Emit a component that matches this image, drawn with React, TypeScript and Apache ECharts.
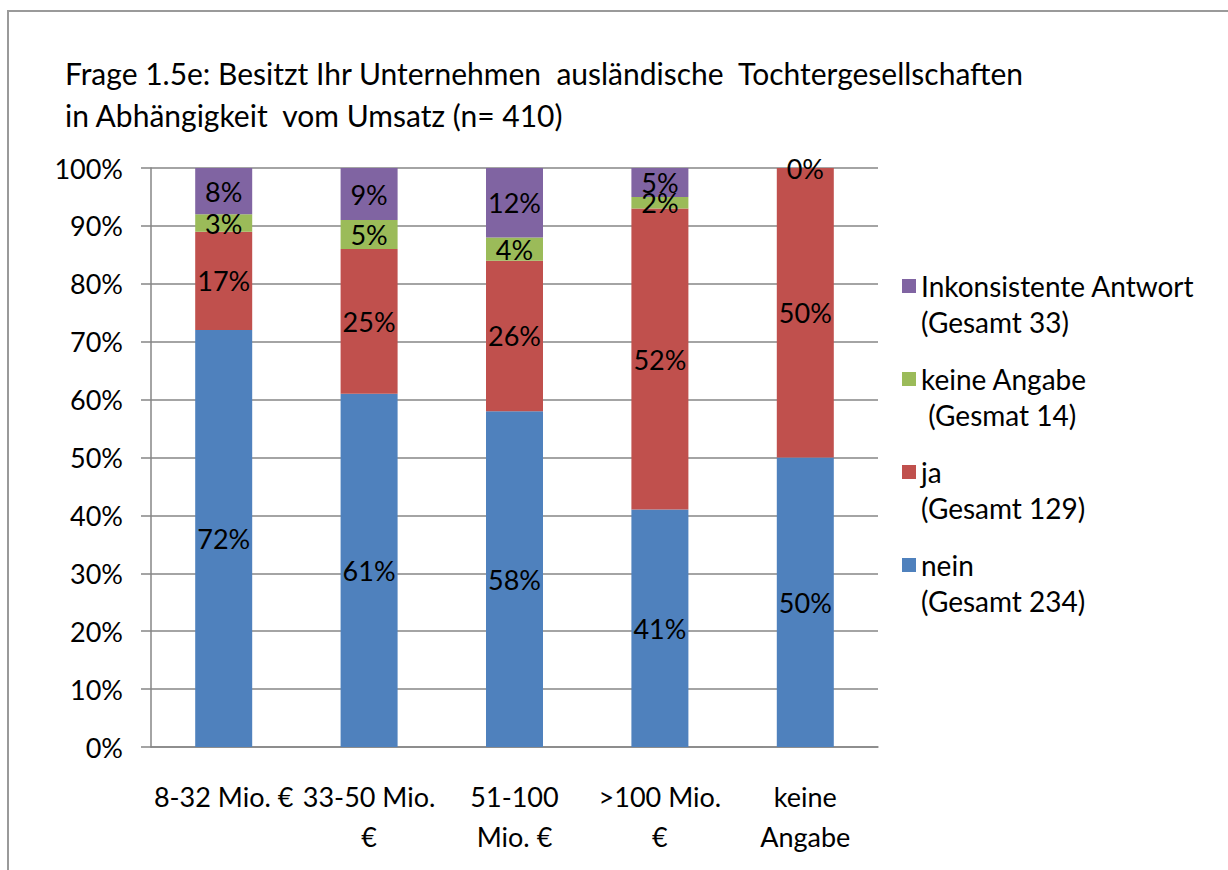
import React, { useEffect, useRef } from "react";
import * as echarts from "echarts";

const categories = ["8-32 Mio. €", "33-50 Mio.\n€", "51-100\nMio. €", ">100 Mio.\n€", "keine\nAngabe"];
const nein = [72, 61, 58, 41, 50];
const ja = [17, 25, 26, 52, 50];
const keineAngabe: (number | null)[] = [3, 5, 4, 2, null];
const inkonsistent = [8, 9, 12, 5, 0];
const seriesNames = [
  "nein\n(Gesamt 234)",
  "ja\n(Gesamt 129)",
  "keine Angabe\n (Gesmat 14)",
  "Inkonsistente Antwort\n(Gesamt 33)",
];
const colors = ["#4f81bd", "#c0504d", "#9bbb59", "#8064a2"];
const titleLines = [
  "Frage 1.5e: Besitzt Ihr Unternehmen  ausländische  Tochtergesellschaften",
  "in Abhängigkeit  vom Umsatz (n= 410)",
];

const FONT = "Lato, 'Open Sans', sans-serif";

export default function App() {
  const ref = useRef<HTMLDivElement>(null);
  useEffect(() => {
    if (!ref.current) return;
    const chart = echarts.init(ref.current, null, { renderer: "svg" });
    const values = [nein, ja, keineAngabe, inkonsistent];
    const labelStyle = {
      show: true,
      position: "inside",
      color: "#000",
      fontFamily: FONT,
      fontSize: 27,
      formatter: (p: any) => `${p.value}%`,
    };
    chart.setOption({
      animation: false,
      backgroundColor: "#fff",
      textStyle: { fontFamily: FONT },
      title: {
        text: titleLines.join("\n"),
        left: 60,
        top: 47,
        textStyle: {
          fontFamily: FONT,
          fontSize: 30,
          fontWeight: "normal",
          color: "#000",
          lineHeight: 42,
        },
      },
      graphic: [
        {
          type: "rect",
          shape: { x: 8, y: 11, width: 1250, height: 900 },
          style: { fill: "none", stroke: "#9a9a9a", lineWidth: 2 },
          silent: true,
        },
      ],
      legend: {
        orient: "vertical",
        left: 897,
        top: 263,
        itemWidth: 14,
        itemHeight: 72,
        itemGap: 21,
        icon: "path://M0,0M0,11h14v14h-14zM0,72",
        data: [...seriesNames].reverse(),
        textStyle: {
          fontFamily: FONT,
          fontSize: 28,
          color: "#000",
          lineHeight: 36,
          padding: [0, 0, 0, 0],
        },
      },
      grid: { left: 151, right: 350, top: 168, bottom: 123, containLabel: false },
      xAxis: {
        type: "category",
        data: categories,
        axisLine: { lineStyle: { color: "#868686", width: 1.5 } },
        axisTick: { length: 10, lineStyle: { color: "#868686", width: 1.5 } },
        axisLabel: {
          interval: 0,
          color: "#000",
          fontFamily: FONT,
          fontSize: 27,
          lineHeight: 40,
          margin: 29,
        },
      },
      yAxis: {
        type: "value",
        min: 0,
        max: 100,
        interval: 10,
        axisLine: { show: true, lineStyle: { color: "#868686", width: 1.5 } },
        axisTick: { show: true, length: 10, lineStyle: { color: "#868686", width: 1.5 } },
        splitLine: { lineStyle: { color: "#868686", width: 1.5 } },
        axisLabel: {
          color: "#000",
          fontFamily: FONT,
          fontSize: 27,
          margin: 28,
          formatter: "{value}%",
        },
      },
      series: seriesNames.map((name, i) => ({
        name,
        type: "bar",
        stack: "total",
        barWidth: 57,
        data: values[i],
        itemStyle: { color: colors[i] },
        label: labelStyle,
      })),
    });
    return () => chart.dispose();
  }, []);
  return (
    <div
      ref={ref}
      style={{ position: "absolute", left: 0, top: 0, width: 1228, height: 870 }}
    />
  );
}
